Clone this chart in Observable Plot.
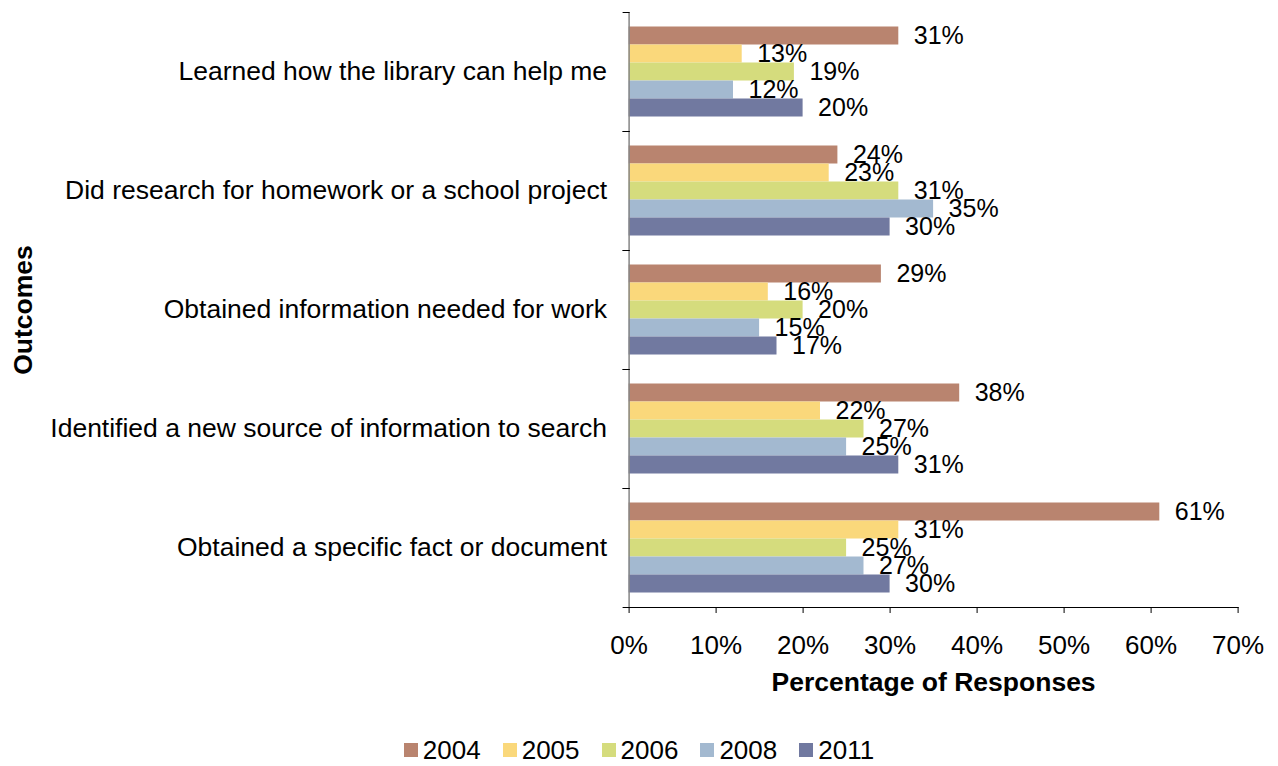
<!DOCTYPE html>
<html>
<head>
<meta charset="utf-8">
<script src="https://cdn.jsdelivr.net/npm/d3@7"></script>
<script src="https://cdn.jsdelivr.net/npm/@observablehq/plot@0.6"></script>
<style>
  body { margin: 0; background: #fff; font-family: "Liberation Sans", Arial, sans-serif; }
  #chart svg { display: block; }
  #chart g[aria-label="x-axis label"], #chart g[aria-label="fy-axis label"] { font-weight: bold; font-size: 26.5px; }
  #chart g[aria-label="fy-axis tick label"] { font-size: 26.5px; }
  #chart g[aria-label="x-axis tick"], #chart g[aria-label="frame"] { stroke: #868686; }
  #legend { display: flex; justify-content: center; align-items: center; margin-top: 15px; height: 30px; font-size: 26px; color: #000; }
  .item { display: flex; align-items: center; margin: 0 11px; }
  .sw { width: 14px; height: 14px; margin-right: 5px; }
</style>
</head>
<body>
<div id="chart"></div>
<div id="legend"></div>
<script>
const outcomes = [
  "Learned how the library can help me",
  "Did research for homework or a school project",
  "Obtained information needed for work",
  "Identified a new source of information to search",
  "Obtained a specific fact or document"
];
const years = ["2004", "2005", "2006", "2008", "2011"];
const v2004 = [31, 24, 29, 38, 61];
const v2005 = [13, 23, 16, 22, 31];
const v2006 = [19, 31, 20, 27, 25];
const v2008 = [12, 35, 15, 25, 27];
const v2011 = [20, 30, 17, 31, 30];
const xTicks = [0, 10, 20, 30, 40, 50, 60, 70];
const colors = ["#B9846F", "#FAD87B", "#D5DC7D", "#A3B9D0", "#7179A0"];

const series = [v2004, v2005, v2006, v2008, v2011];
const data = [];
outcomes.forEach((o, i) => years.forEach((y, j) => data.push({outcome: o, year: y, value: series[j][i]})));

const W = 1278, H = 720, ML = 628.6, MR = 40.4, MT = 10.5, MB = H - 608;
const font = "'Liberation Sans', Arial, sans-serif";

const chart = Plot.plot({
  width: W, height: H,
  marginLeft: ML, marginRight: MR, marginTop: MT, marginBottom: MB,
  style: {fontFamily: font, fontSize: "26px", color: "#000", background: "#fff", overflow: "visible"},
  x: {domain: [0, 70], ticks: xTicks, tickFormat: d => d + "%", tickSize: 6, tickPadding: 22,
      label: "Percentage of Responses", labelArrow: "none", labelAnchor: "center", labelOffset: 83, line: true},
  y: {domain: years, paddingInner: 0, paddingOuter: 0.75, axis: null},
  fy: {domain: outcomes, padding: 0, axis: "left", tickSize: 0, tickPadding: 22,
       label: "Outcomes", labelAnchor: "center", labelOffset: 616},
  color: {domain: years, range: colors},
  marks: [
    Plot.barX(data, {x: "value", y: "year", fy: "outcome", fill: "year"}),
    Plot.ruleX([0], {stroke: "#868686", strokeWidth: 1.5}),
    Plot.frame({anchor: "top", insetLeft: -6, insetRight: W - ML - MR}),
    Plot.frame({anchor: "bottom", insetLeft: -6, insetRight: W - ML - MR}),
    Plot.text(data, {x: "value", y: "year", fy: "outcome", text: d => d.value + "%",
                     textAnchor: "start", dx: 15, fill: "#000", fontSize: 25})
  ]
});
document.getElementById("chart").appendChild(chart);

const legend = document.getElementById("legend");
years.forEach((y, j) => {
  const it = document.createElement("div");
  it.className = "item";
  const sw = document.createElement("div");
  sw.className = "sw";
  sw.style.background = colors[j];
  const t = document.createElement("span");
  t.textContent = y;
  it.appendChild(sw);
  it.appendChild(t);
  legend.appendChild(it);
});
</script>
</body>
</html>
